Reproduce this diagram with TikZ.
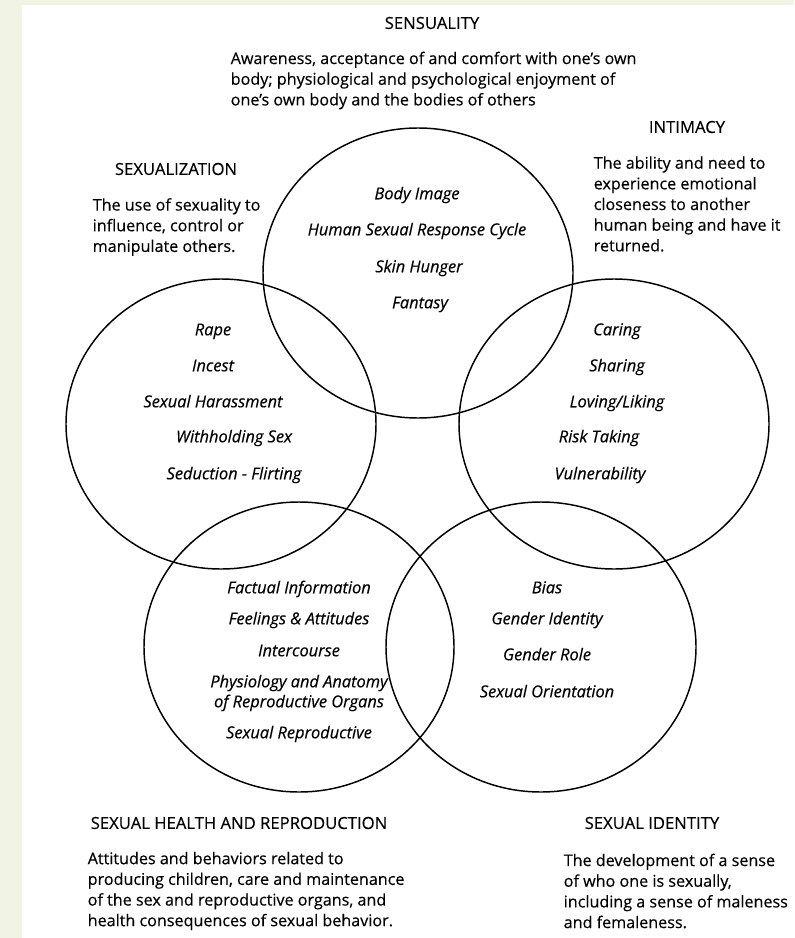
\documentclass[tikz,border=0pt]{standalone}
\usepackage{fontspec}
\setmainfont{Open Sans}[UprightFeatures={FakeBold=0.3}, ItalicFeatures={FakeBold=0.3}]
\definecolor{randgruen}{RGB}{241,244,229}
\begin{document}
\begin{tikzpicture}[x=0.75pt, y=-0.75pt, line width=1.1pt,
	heading/.style={font=\fontsize{12.5}{14}\selectfont, inner sep=0pt},
	desc/.style={font=\fontsize{12.1}{15.5}\selectfont, align=left, inner sep=0pt, anchor=west},
	entry/.style={font=\fontsize{12.3}{14}\selectfont\itshape, inner sep=0pt, text height=8.7pt, text depth=2.3pt}]
	\fill[randgruen] (0,0) rectangle (794,938);
	\fill[white] (22,5) rectangle (794,938);
	\useasboundingbox (0,0) rectangle (794,938);
	% die fuenf Kreise
	\foreach \kx/\ky in {418/273, 221/424, 614/424, 299/647, 541/647}
	\draw (\kx,\ky) ellipse [x radius=155, y radius=145];
	% Ueberschriften und Beschreibungen
	\node[heading] (sensuality) at (432,23) {SENSUALITY};
	\node[desc] (sensualitytext) at (230,80.5) {Awareness, acceptance of and comfort with one's own\\
		body; physiological and psychological enjoyment of\\
		one's own body and the bodies of others};
	\node[heading] (intimacy) at (687,127) {INTIMACY};
	\node[desc] (intimacytext) at (593,204) {The ability and need to\\
		experience emotional\\
		closeness to another\\
		human being and have it\\
		returned.};
	\node[heading] (sexualization) at (176,169) {SEXUALIZATION};
	\node[desc] (sexualizationtext) at (92,227) {The use of sexuality to\\
		influence, control or\\
		manipulate others.};
	\node[heading, anchor=west] (health) at (90,823) {SEXUAL HEALTH AND REPRODUCTION};
	\node[desc] (healthtext) at (87,891) {Attitudes and behaviors related to\\
		producing children, care and maintenance\\
		of the sex and reproductive organs, and\\
		health consequences of sexual behavior.};
	\node[heading] (identity) at (652,823) {SEXUAL IDENTITY};
	\node[desc] (identitytext) at (563,891) {The development of a sense\\
		of who one is sexually,\\
		including a sense of maleness\\
		and femaleness.};
	% Eintraege in den Kreisen
	\foreach \eintrag/\ex/\ey [count=\i] in {Body Image/417/195, Human Sexual Response Cycle/417/231,
		Skin Hunger/419/268, Fantasy/420/304}
	\node[entry] (sens\i) at (\ex,\ey) {\eintrag};
	\foreach \eintrag/\ex/\ey [count=\i] in {Rape/213/331, Incest/213/367, Sexual Harassment/213/403,
		Withholding Sex/234/438, Seduction - Flirting/234/475}
	\node[entry] (sexz\i) at (\ex,\ey) {\eintrag};
	\foreach \eintrag/\ex/\ey [count=\i] in {Caring/617/331, Sharing/617/367, {Loving/Liking}/617/403,
		Risk Taking/599/438, Vulnerability/600/475}
	\node[entry] (intim\i) at (\ex,\ey) {\eintrag};
	\foreach \eintrag/\ex/\ey [count=\i] in {Factual Information/299/589, Feelings \& Attitudes/299/620,
		Intercourse/299/652, Sexual Reproductive/299/734}
	\node[entry] (health\i) at (\ex,\ey) {\eintrag};
	\node[entry, align=center, text height=, text depth=, font=\fontsize{12.3}{15}\selectfont\itshape]
		(physiology) at (299,693) {Physiology and Anatomy\\ of Reproductive Organs};
	\foreach \eintrag/\ex/\ey [count=\i] in {Bias/547/589, Gender Identity/547/620,
		Gender Role/547/656, Sexual Orientation/547/693}
	\node[entry] (ident\i) at (\ex,\ey) {\eintrag};
\end{tikzpicture}
\end{document}
